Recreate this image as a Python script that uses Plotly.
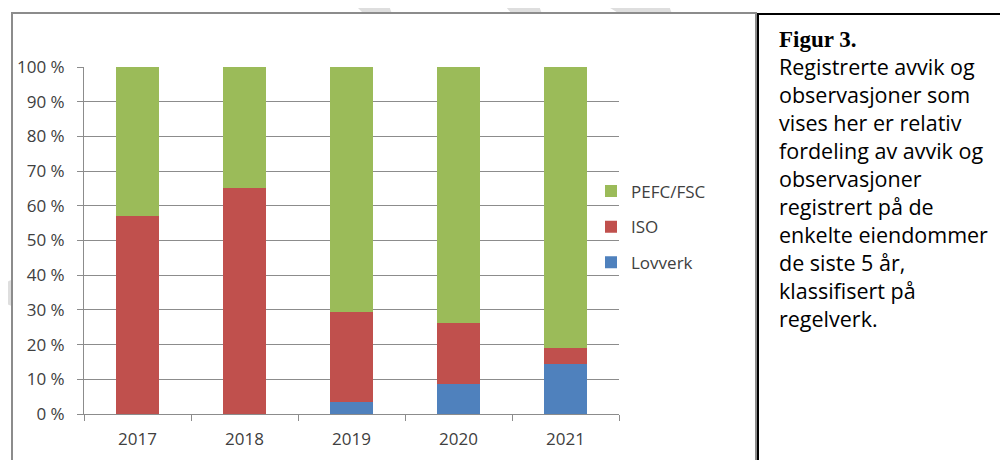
import plotly.graph_objects as go

years = ["2017", "2018", "2019", "2020", "2021"]
lovverk = [0.0, 0.0, 3.5, 8.7, 14.3]
iso = [57.1, 65.2, 26.0, 17.4, 4.8]
pefc_fsc = [42.9, 34.8, 70.5, 73.9, 80.9]

caption_title = "Figur 3."
caption_lines = [
    "Registrerte avvik og",
    "observasjoner som",
    "vises her er relativ",
    "fordeling av avvik og",
    "observasjoner",
    "registrert på de",
    "enkelte eiendommer",
    "de siste 5 år,",
    "klassifisert på",
    "regelverk.",
]

W, H = 1008, 460
OFF = 8  # the page body adds an 8px margin around the plot div
FONT = "Open Sans"
GRID = "#8c8c8c"
TXT = "#404040"


def px(x):
    # screen pixel -> paper fraction
    return (x - OFF) / W


def py(y):
    return 1 - (y - OFF) / H


fig = go.Figure()
series = [("Lovverk", lovverk, "#4F81BD", 3),
          ("ISO", iso, "#C0504D", 2),
          ("PEFC/FSC", pefc_fsc, "#9BBB59", 1)]
for name, vals, col, rank in series:
    fig.add_trace(go.Bar(x=years, y=vals, name=name, legendgroup=name,
                         legendrank=rank,
                         marker=dict(color=col, line=dict(width=0))))

# faint watermark strokes behind the chart frame
wm = "#dedede"
shapes = []
for pts in [[(350, 0), (387, 0), (392, 14), (364, 14)],
            [(500, 0), (537, 0), (542, 14), (512, 14)],
            [(597, 0), (667, 0), (672, 14), (620, 14)]]:
    d = "M" + " L".join(f"{px(a)},{py(b)}" for a, b in pts) + " Z"
    shapes.append(dict(type="path", path=d, xref="paper", yref="paper",
                       fillcolor=wm, line=dict(width=0), layer="below"))
shapes.append(dict(type="circle", xref="paper", yref="paper",
                   x0=px(2), x1=px(24), y0=py(306), y1=py(280),
                   fillcolor=wm, line=dict(width=0), layer="below"))
# chart frame
shapes.append(dict(type="rect", xref="paper", yref="paper",
                   x0=px(12), x1=px(756), y0=py(480), y1=py(13),
                   fillcolor="white", line=dict(color="#8c8c8c", width=2),
                   layer="below"))
# caption box
shapes.append(dict(type="rect", xref="paper", yref="paper",
                   x0=px(758), x1=px(1030), y0=py(480), y1=py(14),
                   fillcolor="white", line=dict(color="black", width=2),
                   layer="below"))

title_html = ('<span style="font-family:Liberation Serif;font-size:23px">'
              f"<b>{caption_title}</b></span>")
annotations = [
    dict(text="<br>".join([title_html] + caption_lines),
         xref="paper", yref="paper",
         x=px(777), y=py(25), xanchor="left", yanchor="top",
         showarrow=False, align="left",
         font=dict(family=FONT, size=21.5, color="black")),
]

fig.update_layout(
    width=W, height=H,
    margin=dict(l=0, r=0, t=0, b=0, autoexpand=False),
    paper_bgcolor="white", plot_bgcolor="rgba(0,0,0,0)",
    barmode="stack", bargap=0.6,
    font=dict(family=FONT, size=17, color=TXT),
    shapes=shapes, annotations=annotations,
    showlegend=True,
    legend=dict(x=px(591), y=py(227), xanchor="left", yanchor="middle",
                traceorder="grouped", tracegroupgap=10.5,
                bgcolor="rgba(0,0,0,0)", font=dict(size=17, color=TXT),
                itemwidth=30),
    xaxis=dict(domain=[px(84), px(619)], showline=True, linecolor=GRID,
               linewidth=1, ticks="outside", tickson="boundaries",
               ticklen=6, tickcolor=GRID, showgrid=False,
               ticklabelstandoff=10, automargin=False),
    yaxis=dict(domain=[py(414), py(67)], range=[0, 100], dtick=10,
               ticksuffix=" %", showline=True, linecolor=GRID, linewidth=1,
               ticks="outside", ticklen=6, tickcolor=GRID,
               showgrid=True, gridcolor=GRID, gridwidth=1,
               zeroline=False, ticklabelstandoff=9, automargin=False),
)

fig.write_html("out.html")
